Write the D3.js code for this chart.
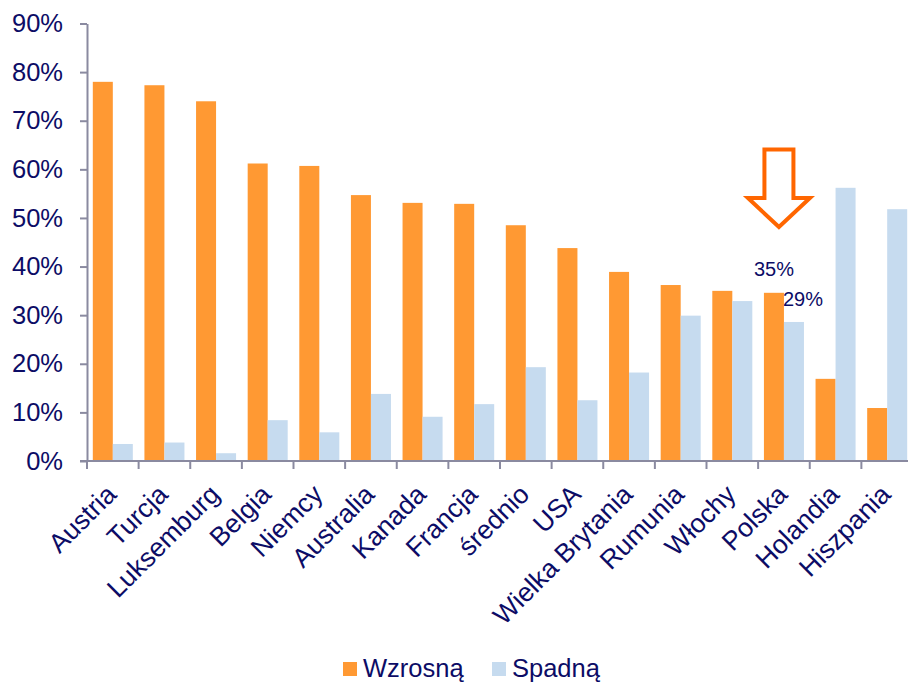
<!DOCTYPE html>
<html>
<head>
<meta charset="utf-8">
<script src="https://cdn.jsdelivr.net/npm/d3@7"></script>
<style>
  html, body { margin: 0; padding: 0; background: #fff; }
  svg { display: block; font-family: Arial, "Liberation Sans", sans-serif; }
</style>
</head>
<body>
<div id="chart"></div>
<script>
// chart data
const countries = ['Austria', 'Turcja', 'Luksemburg', 'Belgia', 'Niemcy', 'Australia', 'Kanada', 'Francja',
  'średnio', 'USA', 'Wielka Brytania', 'Rumunia', 'Włochy', 'Polska', 'Holandia', 'Hiszpania'];
const wzrosna = [78.0, 77.3, 74.0, 61.2, 60.7, 54.7, 53.1, 52.9, 48.5, 43.8, 38.9, 36.2, 35.0, 34.6, 16.9, 10.9];
const spadna  = [3.5, 3.8, 1.6, 8.4, 5.9, 13.8, 9.1, 11.7, 19.3, 12.5, 18.2, 29.9, 32.9, 28.6, 56.2, 51.8];
const seriesNames = ['Wzrosną', 'Spadną'];
const yTicks = [0, 10, 20, 30, 40, 50, 60, 70, 80, 90];
const highlight = 'Polska';

const colors = { 'Wzrosną': '#FF9933', 'Spadną': '#C6DBEF' };
const textColor = '#0c0c66';
const axisColor = '#8a8aa0';

const width = 908, height = 683;
const plotLeft = 87, plotRight = 913, plotTop = 23.5, plotBottom = 461;

const svg = d3.select('#chart').append('svg')
  .attr('width', width)
  .attr('height', height);

const x0 = d3.scaleBand().domain(countries).range([plotLeft, plotRight]).padding(0);
const x1 = d3.scaleBand().domain(seriesNames).range([0, x0.bandwidth()]).paddingOuter(0.29);
const y = d3.scaleLinear().domain([0, 90]).range([plotBottom, plotTop]);

const rows = countries.map((c, i) => ({ country: c, values: [wzrosna[i], spadna[i]] }));

// bars
const groups = svg.append('g').selectAll('g')
  .data(rows)
  .enter().append('g')
  .attr('transform', d => 'translate(' + x0(d.country) + ',0)');

groups.selectAll('rect')
  .data(d => d.values.map((v, k) => ({ key: seriesNames[k], value: v })))
  .enter().append('rect')
  .attr('x', d => x1(d.key))
  .attr('y', d => y(d.value))
  .attr('width', x1.bandwidth())
  .attr('height', d => plotBottom - y(d.value))
  .attr('fill', d => colors[d.key]);

// y axis
const yAxis = svg.append('g')
  .attr('transform', 'translate(' + plotLeft + ',0)')
  .call(d3.axisLeft(y).tickValues(yTicks).tickFormat(d => d + '%')
    .tickSizeInner(7).tickSizeOuter(0).tickPadding(17));
yAxis.select('.domain').attr('stroke', axisColor).attr('stroke-width', 2);
yAxis.selectAll('.tick line').attr('stroke', axisColor).attr('stroke-width', 2);
yAxis.selectAll('.tick text')
  .attr('fill', textColor)
  .style('font-size', '25.5px');

// x axis line with boundary ticks
svg.append('line')
  .attr('x1', plotLeft - 7).attr('x2', width)
  .attr('y1', plotBottom).attr('y2', plotBottom)
  .attr('stroke', axisColor).attr('stroke-width', 2);

const bounds = countries.map(c => x0(c)).concat([plotRight]);
svg.append('g').selectAll('line')
  .data(bounds)
  .enter().append('line')
  .attr('x1', d => d).attr('x2', d => d)
  .attr('y1', plotBottom).attr('y2', plotBottom + 8)
  .attr('stroke', axisColor).attr('stroke-width', 2);

// x labels
svg.append('g').selectAll('text')
  .data(countries)
  .enter().append('text')
  .attr('transform', d => 'translate(' + (x0(d) + x0.bandwidth() / 2 + 5) + ',' + (plotBottom + 35) + ') rotate(-45)')
  .attr('text-anchor', 'end')
  .attr('fill', textColor)
  .style('font-size', '26.5px')
  .text(d => d);

// annotation for Polska
const pi = countries.indexOf(highlight);
const bx = x0(highlight);
svg.append('text')
  .attr('x', bx + x1('Wzrosną') + x1.bandwidth() / 2)
  .attr('y', y(wzrosna[pi]) - 17)
  .attr('text-anchor', 'middle')
  .attr('fill', textColor)
  .style('font-size', '20px')
  .text(Math.round(wzrosna[pi]) + '%');
svg.append('text')
  .attr('x', bx + x1('Spadną') + x1.bandwidth() / 2 + 9)
  .attr('y', y(spadna[pi]) - 16)
  .attr('text-anchor', 'middle')
  .attr('fill', textColor)
  .style('font-size', '20px')
  .text(Math.round(spadna[pi]) + '%');

// down arrow
const ax = bx + x1('Wzrosną') + x1.bandwidth() / 2 + 5;
const arrow = [
  [ax - 14.5, 149.5], [ax + 14.5, 149.5], [ax + 14.5, 198], [ax + 31, 198],
  [ax, 227], [ax - 31, 198], [ax - 14.5, 198]
];
svg.append('path')
  .attr('d', d3.line()(arrow) + 'Z')
  .attr('fill', '#fff')
  .attr('stroke', '#FF6600')
  .attr('stroke-width', 4);

// legend
const legend = svg.append('g').selectAll('g')
  .data(seriesNames)
  .enter().append('g')
  .attr('transform', (d, i) => 'translate(' + [343, 492][i] + ',662)');
legend.append('rect')
  .attr('width', 14).attr('height', 14)
  .attr('fill', d => colors[d]);
legend.append('text')
  .attr('x', 20).attr('y', 14.5)
  .attr('fill', textColor)
  .style('font-size', '25.5px')
  .text(d => d);
</script>
</body>
</html>
